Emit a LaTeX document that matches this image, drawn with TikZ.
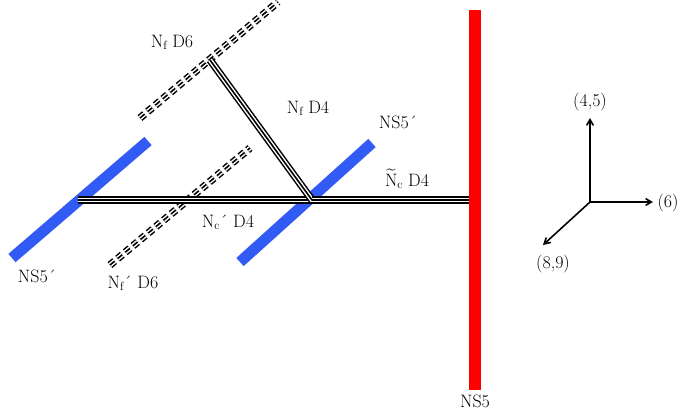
\documentclass[tikz,border=0pt]{standalone}
\usepackage{amsmath}
\usetikzlibrary{arrows}
\tikzset{
  triple/.style={preaction={draw,line width=7.5pt,#1},
    preaction={draw,white,line width=4.5pt,#1}, draw, line width=1.6pt,#1},
  triple/.default={solid},
  dtriple/.style={triple={dash pattern=on 6pt off 4pt}},
  ns5p/.style={draw, line width=11bp, color={rgb,255:red,50;green,90;blue,245}},
  ns5/.style={draw, line width=12bp, red},
  lbl/.style={font=\fontsize{18}{18}\selectfont}
}
\newcommand{\sbx}[1]{\raisebox{-0.25ex}{\fontsize{12}{12}\selectfont #1}}
\begin{document}
\begin{tikzpicture}[x=1bp,y=-1bp]
  \useasboundingbox (0,0) rectangle (682,410);
  % branes
  \coordinate (d6a) at (140,118); \coordinate (d6b) at (278,2);
  \coordinate (d6c) at (110,265); \coordinate (d6d) at (250,148);
  \draw[dtriple] (d6a) -- (d6b);
  \draw[dtriple] (d6c) -- (d6d);
  \draw[ns5p] (12,258) -- (148,141);
  \draw[ns5p] (240,262) -- (372,143);
  \coordinate (left) at (78,200);
  \coordinate (mid) at (312,200);
  \coordinate (top) at (210,60);
  \coordinate (right) at (470,200);
  \draw[triple] (left) -- (mid);
  \draw[triple] (top) -- (mid);
  \draw[triple] (mid) -- (right);
  \draw[ns5] (475,10) -- (475,390);
  % labels
  \node[lbl] (nfd6) at (172,42) {N\sbx{f} D6};
  \node[lbl] (nfd4) at (308,108) {N\sbx{f} D4};
  \node[lbl] (ns5a) at (398,122) {NS5\'{}};
  \node[lbl,inner sep=1pt] (ncd4) at (407,179) {$\widetilde{\text{N}}$\sbx{c} D4};
  \node[lbl] (ncpd4) at (228,222) {N\sbx{c}\'{} D4};
  \node[lbl] (nfpd6) at (133,283) {N\sbx{f}\'{} D6};
  \node[lbl] (ns5b) at (37,276) {NS5\'{}};
  \node[lbl,inner sep=1pt] (ns5c) at (475,401) {NS5};
  % axes
  \coordinate (o) at (590,202);
  \node[lbl] (x45) at (590,102) {(4,5)};
  \node[lbl] (x6) at (668,203) {(6)};
  \node[lbl] (x89) at (553,264) {(8,9)};
  \draw[->,>=angle 60,line width=1.6pt] (o) -- (590,118);
  \draw[->,>=angle 60,line width=1.6pt] (o) -- (653,202);
  \draw[->,>=angle 60,line width=1.6pt] (o) -- (543,245);
\end{tikzpicture}
\end{document}
